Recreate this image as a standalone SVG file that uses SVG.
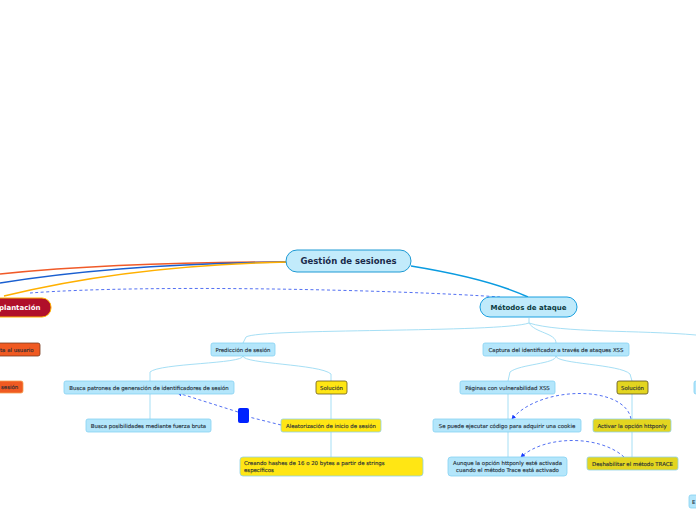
<svg xmlns="http://www.w3.org/2000/svg" width="696" height="520" viewBox="0 0 696 520">
<defs>
<marker id="arr" viewBox="0 0 6 6" refX="5" refY="3" markerWidth="5" markerHeight="5" orient="auto"><path d="M0,0 L6,3 L0,6 z" fill="#1a3cff"/></marker>
<style>
.t{font-family:"DejaVu Sans",Verdana,sans-serif;font-size:5.4px;fill:#1e2c36;stroke:#1e2c36;stroke-width:0.12;text-anchor:middle}
.b{fill:#b4e6fb;stroke:#86d2f2;stroke-width:0.8}
.y{fill:#ffe614;stroke:#8fd2e6;stroke-width:0.8}
.yd{fill:#ffe614;stroke:#6b5a1a;stroke-width:0.8}
.y2{fill:#e3d520;stroke:#8fd2e6;stroke-width:0.8}
.y2d{fill:#e3d520;stroke:#5a5020;stroke-width:0.8}
.o{fill:#f05a22;stroke:#7a3a20;stroke-width:0.8}
.tree{fill:none;stroke:#a6dff5;stroke-width:1}
.dash{fill:none;stroke:#4060f0;stroke-width:0.9;stroke-dasharray:3 2.5}
</style>
</defs>
<g id="connectors">
<path d="M288,262 C180,262 80,266 0,274" fill="none" stroke="#f05a28" stroke-width="1.5"/>
<path d="M288,262 C180,263 80,270 0,283" fill="none" stroke="#1a5fd0" stroke-width="1.5"/>
<path d="M288,262 C190,264 90,275 4,296" fill="none" stroke="#ffb000" stroke-width="1.5"/>
<path d="M411,266 C460,274 500,284 528,297" fill="none" stroke="#0a9be0" stroke-width="1.5"/>
<path d="M30,293 C150,284 400,290 500,297" class="dash"/>
<path class="tree" d="M529,318 L529,323 C500,333 260,328 246,337 L243,343"/>
<path class="tree" d="M529,323 C535,333 556,333 556,343"/>
<path class="tree" d="M529,323 C560,333 640,330 696,335"/>
<path class="tree" d="M243,356 C243,364 160,363 150,372 L150,381"/>
<path class="tree" d="M243,356 C243,364 320,364 331,374 L331,381"/>
<path class="tree" d="M150,394 L150,419"/>
<path class="tree" d="M331,394 L331,457"/>
<path class="tree" d="M556,356 C556,364 520,364 510,372 L508,381"/>
<path class="tree" d="M556,356 C556,364 620,364 630,374 L632,381"/>
<path class="tree" d="M508,394 L508,457"/>
<path class="tree" d="M632,394 L632,457"/>
<path class="dash" d="M281,425 L249,417"/>
<path class="dash" d="M238,412 L178,393" marker-end="url(#arr)"/>
<path class="dash" d="M631,419 C625,385 540,385 512,419" marker-end="url(#arr)"/>
<path class="dash" d="M624,457 C600,435 545,435 521,457" marker-end="url(#arr)"/>
</g>
<g id="n-main"><rect x="286" y="250" width="125" height="22" rx="11" fill="#c2ebfb" stroke="#1e9ad4" stroke-width="1"/><text x="348.5" y="264" style="font-family:'DejaVu Sans',Verdana,sans-serif;font-size:8.5px;font-weight:bold;fill:#1a2a4a;text-anchor:middle">Gestión de sesiones</text></g>
<g id="n-plantacion"><rect x="-20" y="298" width="71" height="19" rx="9" fill="#b0102a" stroke="#ffb000" stroke-width="1"/><text x="-1" y="310" style="font-family:'DejaVu Sans',Verdana,sans-serif;font-size:7px;font-weight:bold;fill:#ffffff">plantación</text></g>
<g id="n-metodos"><rect x="480" y="297" width="97" height="20" rx="10" fill="#bfeafb" stroke="#1aa0e0" stroke-width="1"/><text x="528.5" y="310" style="font-family:'DejaVu Sans',Verdana,sans-serif;font-size:7px;font-weight:bold;fill:#0a3a40;text-anchor:middle">Métodos de ataque</text></g>
<g id="n-usuario"><rect class="o" x="-10" y="343" width="50" height="13" rx="2"/><text class="t" x="0" y="351.5" style="text-anchor:start">ta al usuario</text></g>
<g id="n-sesion"><rect class="o" x="-10" y="381" width="33" height="12" rx="2" style="stroke:#f5a050"/><text class="t" x="1" y="389" style="text-anchor:start">sesión</text></g>
<g id="n-prediccion"><rect class="b" x="211" y="343" width="64" height="13" rx="2"/><text class="t" x="243" y="351.5">Predicción de sesión</text></g>
<g id="n-captura"><rect class="b" x="483" y="343" width="146" height="13" rx="2"/><text class="t" x="556" y="351.5">Captura del identificador a través de ataques XSS</text></g>
<g id="n-patrones"><rect class="b" x="64" y="381" width="170" height="13" rx="2"/><text class="t" x="149" y="389.5">Busca patrones de generación de identificadores de sesión</text></g>
<g id="n-sol1"><rect class="yd" x="316" y="381" width="31" height="13" rx="2"/><text class="t" x="331.5" y="389.5">Solución</text></g>
<g id="n-paginas"><rect class="b" x="460" y="381" width="95" height="13" rx="2"/><text class="t" x="507.5" y="389.5">Páginas con vulnerabilidad XSS</text></g>
<g id="n-sol2"><rect class="y2d" x="617" y="381" width="31" height="13" rx="2"/><text class="t" x="632.5" y="389.5">Solución</text></g>
<g id="n-right1"><rect class="b" x="694" y="381" width="10" height="13" rx="2"/></g>
<g id="n-fuerza"><rect class="b" x="86" y="419" width="125" height="13" rx="2"/><text class="t" x="148.5" y="427.5">Busca posibilidades mediante fuerza bruta</text></g>
<g id="n-aleatorizacion"><rect class="y" x="281" y="419" width="100" height="13" rx="2"/><text class="t" x="331" y="427.5">Aleatorización de inicio de sesión</text></g>
<g id="n-ejecutar"><rect class="b" x="433" y="419" width="148" height="13" rx="2"/><text class="t" x="507" y="427.5">Se puede ejecutar código para adquirir una cookie</text></g>
<g id="n-activar"><rect class="y2" x="593" y="419" width="78" height="13" rx="2"/><text class="t" x="632" y="427.5">Activar la opción httponly</text></g>
<g id="n-hashes"><rect class="y" x="240" y="457" width="183" height="19" rx="3"/><text class="t" x="244" y="465" style="text-anchor:start">Creando hashes de 16 o 20 bytes a partir de strings</text><text class="t" x="244" y="471.5" style="text-anchor:start">específicos</text></g>
<g id="n-aunque"><rect class="b" x="448" y="457" width="119" height="19" rx="3"/><text class="t" x="507.5" y="465">Aunque la opción httponly esté activada</text><text class="t" x="507.5" y="471.5">cuando el método Trace está activado</text></g>
<g id="n-trace"><rect class="y2" x="587" y="457" width="91" height="13" rx="2"/><text class="t" x="632.5" y="465.5">Deshabilitar el método TRACE</text></g>
<g id="n-right2"><rect class="b" x="689" y="495" width="14" height="13" rx="2"/><text class="t" x="692" y="503.5" style="text-anchor:start">E</text></g>
<g id="n-square"><rect x="238" y="408" width="11" height="15" rx="2" fill="#0022ff"/></g>
</svg>
